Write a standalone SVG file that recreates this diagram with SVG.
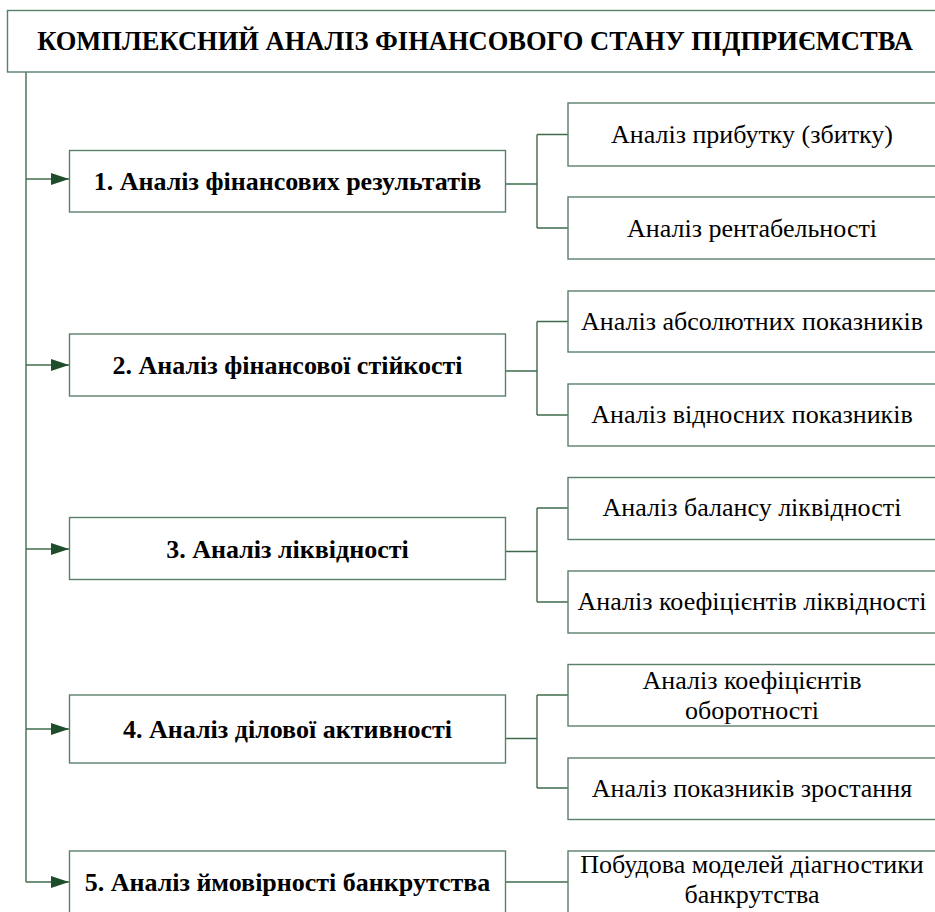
<svg xmlns="http://www.w3.org/2000/svg" width="935" height="912" viewBox="0 0 935 912">
<defs>
<style>
.box{fill:#ffffff;stroke:#5b806a;stroke-width:1.4}
.ln{fill:none;stroke:#3f6b4c;stroke-width:1.4}
.t{font-family:"Liberation Serif","Times New Roman",serif;fill:#000;text-anchor:middle}
.tt{font-size:26.5px;font-weight:bold}
.mb{font-size:26px;font-weight:bold}
.sb{font-size:26px}
</style>
<marker id="arr" viewBox="0 0 18 12" refX="18" refY="6" markerWidth="18" markerHeight="12" markerUnits="userSpaceOnUse" orient="auto">
<path d="M0,0 L18,6 L0,12 Z" fill="#1e4d2b"/>
</marker>
</defs>
<rect width="935" height="912" fill="#ffffff"/>

<g id="connectors">
<path class="ln" d="M26,72 V882"/>
<path class="ln" d="M26,179 H69" marker-end="url(#arr)"/>
<path class="ln" d="M26,365 H69" marker-end="url(#arr)"/>
<path class="ln" d="M26,549 H69" marker-end="url(#arr)"/>
<path class="ln" d="M26,729 H69" marker-end="url(#arr)"/>
<path class="ln" d="M26,882 H69" marker-end="url(#arr)"/>
<path class="ln" d="M505.5,184 H537 M537,134.5 V228 M537,134.5 H568 M537,228 H568"/>
<path class="ln" d="M505.5,371 H537 M537,321.5 V415 M537,321.5 H568 M537,415 H568"/>
<path class="ln" d="M505.5,551.5 H537 M537,508 V602 M537,508 H568 M537,602 H568"/>
<path class="ln" d="M505.5,738.5 H537 M537,695 V788 M537,695 H568 M537,788 H568"/>
<path class="ln" d="M505.5,882 H568"/>
</g>

<g id="title">
<rect class="box" x="7.5" y="10.5" width="940" height="61.5"/>
<text class="t tt" x="475" y="50">КОМПЛЕКСНИЙ АНАЛІЗ ФІНАНСОВОГО СТАНУ ПІДПРИЄМСТВА</text>
</g>

<g id="m1">
<rect class="box" x="69.5" y="150.5" width="436" height="61.5"/>
<text class="t mb" x="287.5" y="190">1. Аналіз фінансових результатів</text>
</g>
<g id="m2">
<rect class="box" x="69.5" y="334" width="436" height="62"/>
<text class="t mb" x="287.5" y="374">2. Аналіз фінансової стійкості</text>
</g>
<g id="m3">
<rect class="box" x="69.5" y="517.5" width="436" height="62"/>
<text class="t mb" x="287.5" y="558">3. Аналіз ліквідності</text>
</g>
<g id="m4">
<rect class="box" x="69.5" y="695" width="436" height="68"/>
<text class="t mb" x="287.5" y="738">4. Аналіз ділової активності</text>
</g>
<g id="m5">
<rect class="box" x="69.5" y="851" width="436" height="80"/>
<text class="t mb" x="287.5" y="891">5. Аналіз ймовірності банкрутства</text>
</g>

<g id="s11">
<rect class="box" x="568" y="103" width="380" height="63"/>
<text class="t sb" x="752" y="143">Аналіз прибутку (збитку)</text>
</g>
<g id="s12">
<rect class="box" x="568" y="197" width="380" height="62"/>
<text class="t sb" x="752" y="237">Аналіз рентабельності</text>
</g>
<g id="s21">
<rect class="box" x="568" y="291" width="380" height="61"/>
<text class="t sb" x="752" y="330">Аналіз абсолютних показників</text>
</g>
<g id="s22">
<rect class="box" x="568" y="384" width="380" height="62"/>
<text class="t sb" x="752" y="423">Аналіз відносних показників</text>
</g>
<g id="s31">
<rect class="box" x="568" y="477.5" width="380" height="62"/>
<text class="t sb" x="752" y="516">Аналіз балансу ліквідності</text>
</g>
<g id="s32">
<rect class="box" x="568" y="571" width="380" height="62"/>
<text class="t sb" x="752" y="610">Аналіз коефіцієнтів ліквідності</text>
</g>
<g id="s41">
<rect class="box" x="568" y="664.5" width="380" height="61.5"/>
<text class="t sb" x="752" y="689">Аналіз коефіцієнтів</text>
<text class="t sb" x="752" y="719">оборотності</text>
</g>
<g id="s42">
<rect class="box" x="568" y="758" width="380" height="61.5"/>
<text class="t sb" x="752" y="797">Аналіз показників зростання</text>
</g>
<g id="s51">
<rect class="box" x="568" y="851" width="380" height="80"/>
<text class="t sb" x="752" y="873">Побудова моделей діагностики</text>
<text class="t sb" x="752" y="903">банкрутства</text>
</g>
</svg>
